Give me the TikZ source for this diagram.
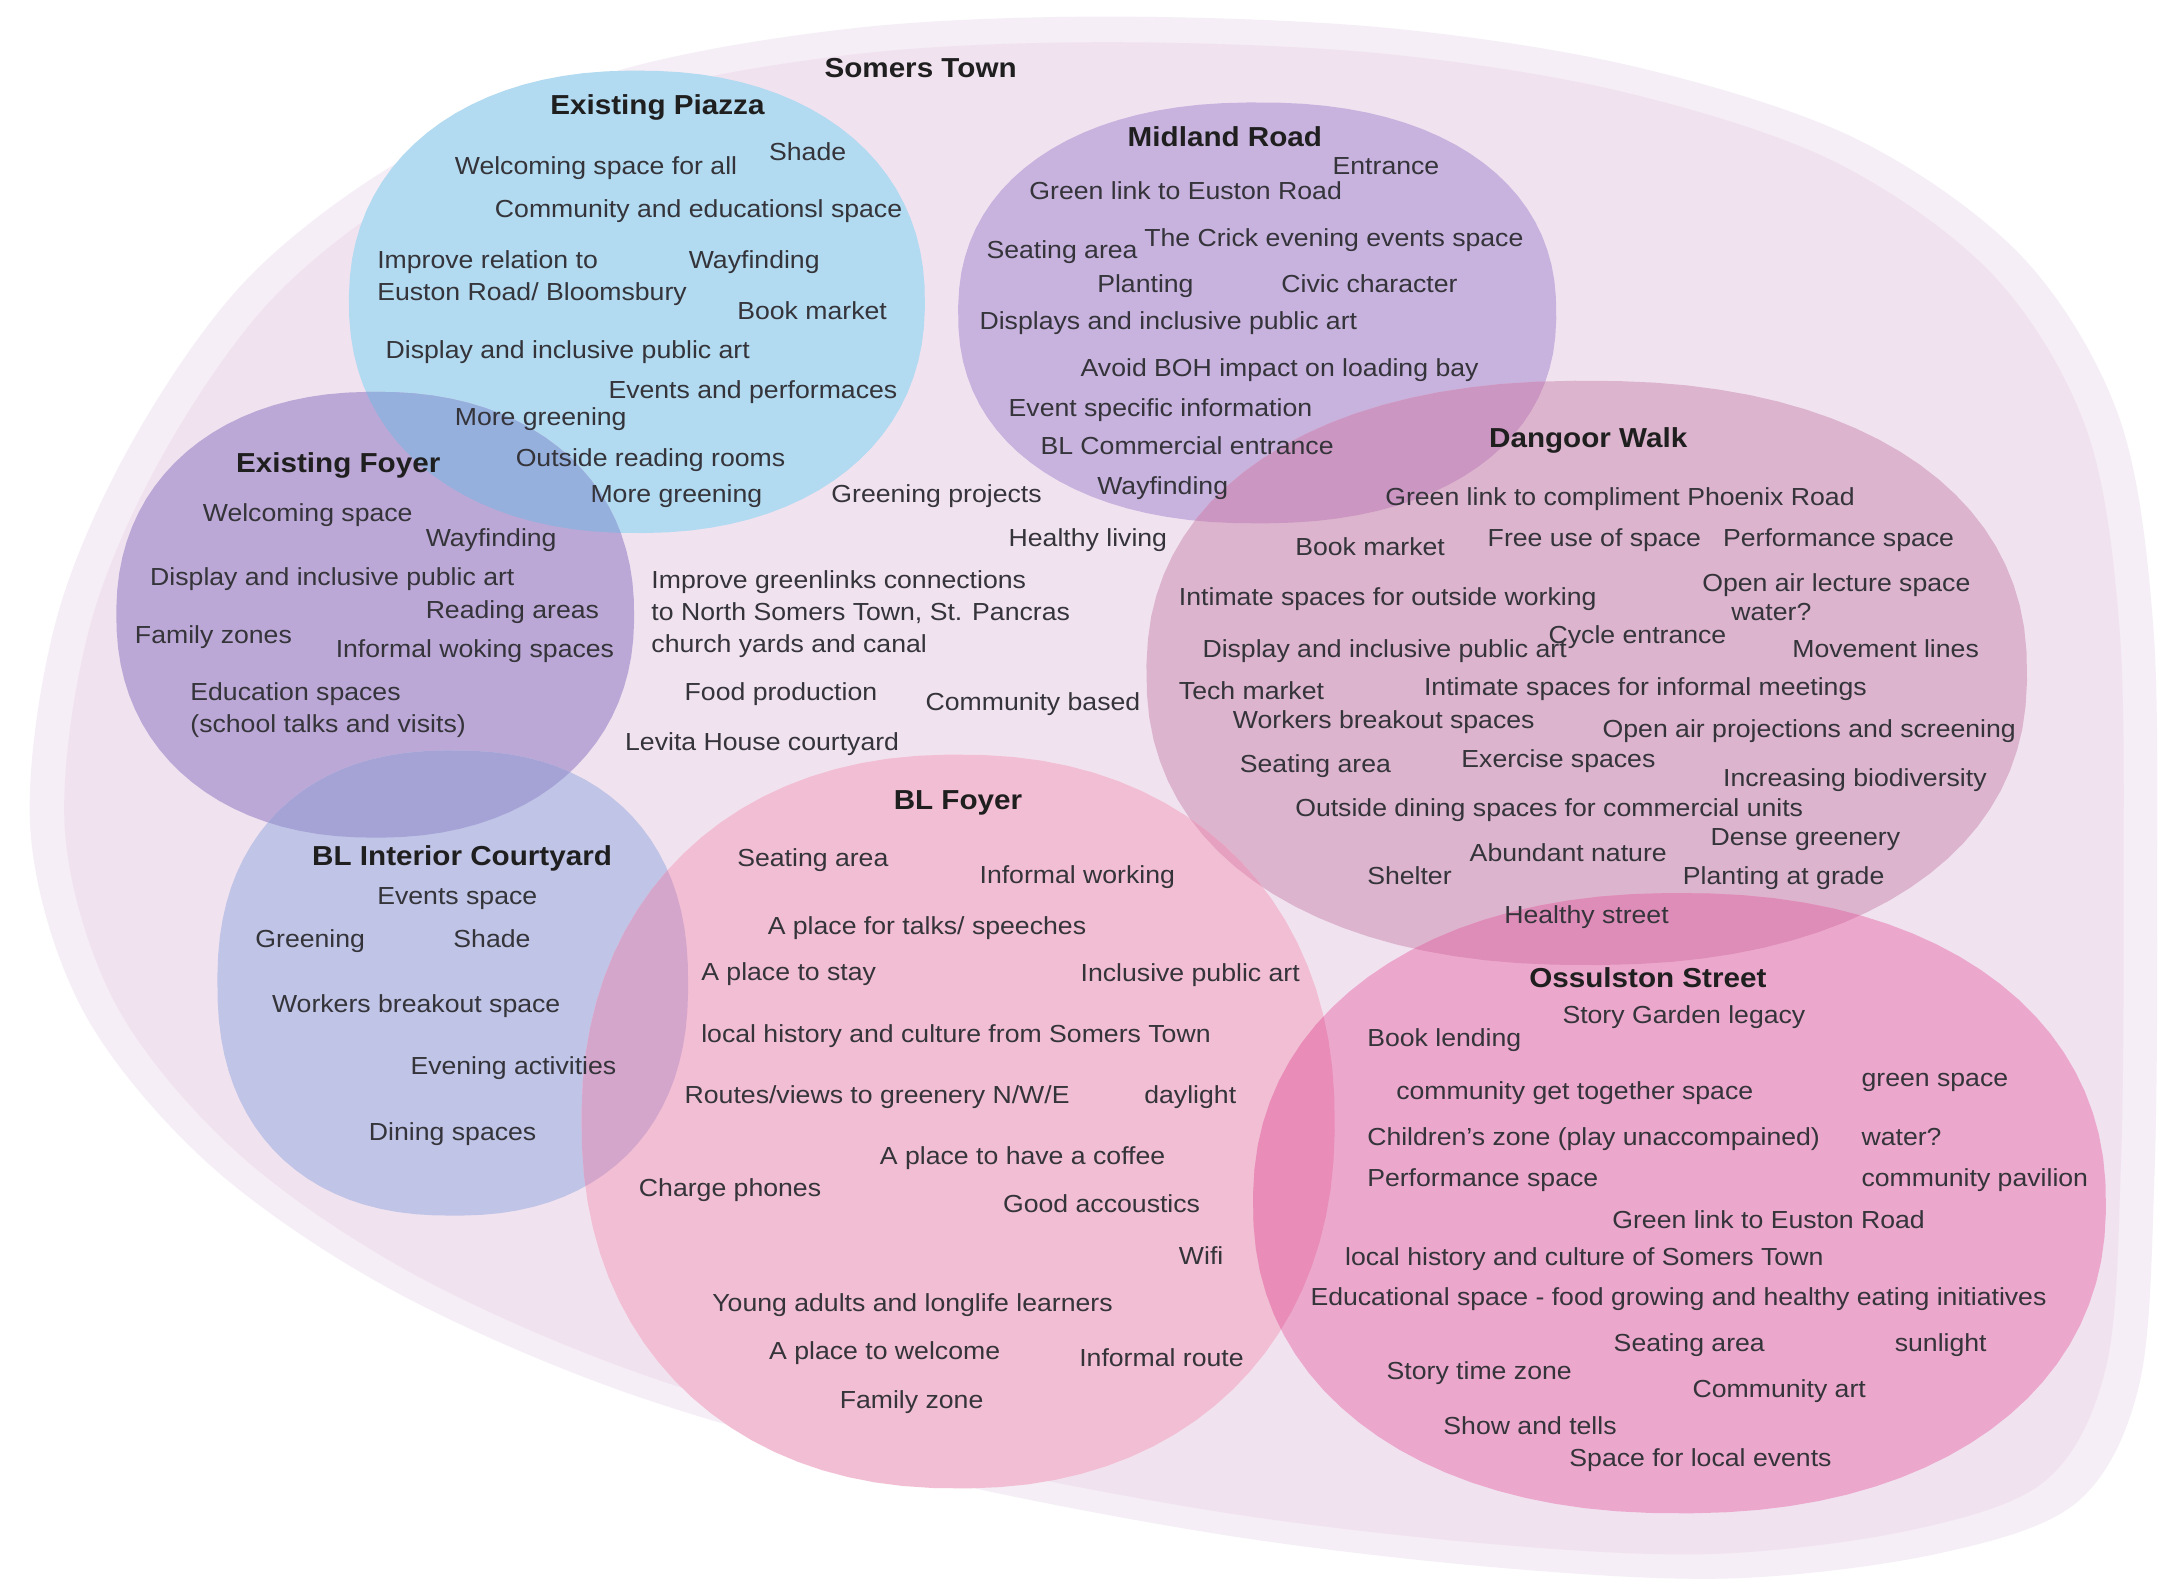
\documentclass[tikz,border=0pt]{standalone}
\usepackage{fontspec}
\setmainfont[FakeStretch=1.08]{Liberation Sans}

\definecolor{halocol}{RGB}{245,238,246}
\definecolor{towncol}{RGB}{241,226,240}
\definecolor{piazzacol}{RGB}{178,218,240}
\definecolor{midlandcol}{RGB}{200,178,222}
\definecolor{foyercol}{RGB}{188,168,214}
\definecolor{dangoorcol}{RGB}{220,180,206}
\definecolor{courtcol}{RGB}{192,196,230}
\definecolor{blfoyercol}{RGB}{242,190,211}
\definecolor{ossulcol}{RGB}{236,168,204}
\definecolor{pzefcol}{RGB}{150,176,222}
\definecolor{mrdwcol}{RGB}{203,150,194}
\definecolor{eficcol}{RGB}{165,163,214}
\definecolor{icbfcol}{RGB}{212,166,204}
\definecolor{bfdwcol}{RGB}{230,160,192}
\definecolor{bfoscol}{RGB}{234,140,184}
\definecolor{dwoscol}{RGB}{222,140,184}
\definecolor{textcol}{RGB}{52,52,58}

\newcommand\itemsize{\fontsize{7.1}{9.2}\selectfont}
\newcommand\titlesize{\fontsize{7.9}{9.5}\selectfont\bfseries}

\tikzset{
  blob/.style n args={5}{insert path={plot[variable=\t, domain=1:361, samples=91]
      ({#1+#3*sign(cos(\t))*pow(abs(cos(\t)),2/#5)}, {#2+#4*sign(sin(\t))*pow(abs(sin(\t)),2/#5)}) -- cycle}},
  townshape/.style={insert path={plot[smooth cycle, tension=0.55] coordinates {
      (22,600) (40,450) (95,320) (180,200) (300,110) (450,50) (620,20) (800,12)
      (1000,20) (1180,48) (1340,100) (1460,185) (1530,300) (1555,450) (1558,650)
      (1556,850) (1545,1000) (1500,1085) (1400,1122) (1250,1140) (1080,1132)
      (880,1108) (660,1065) (450,1005) (280,930) (150,840) (60,730)}}},
  piazzashape/.style={blob={460}{218}{208}{167}{2.2}},
  midlandshape/.style={blob={908}{226}{216}{152}{2.25}},
  foyershape/.style={blob={271}{444}{187}{161}{2.2}},
  courtshape/.style={blob={327}{710}{170}{168}{2.3}},
  blfoyershape/.style={blob={692}{810}{272}{265}{2.2}},
  dangoorshape/.style={blob={1146}{486}{318}{211}{2.25}},
  ossulshape/.style={blob={1213}{869}{308}{224}{2.2}},
  item/.style={anchor=base west, inner sep=0pt, font=\itemsize, text=textcol},
  ttl/.style={item, font=\titlesize, text=black!88}
}

\begin{document}
\begin{tikzpicture}[x=0.014cm, y=-0.014cm]
  \useasboundingbox[fill=white] (0,0) rectangle (1568,1143);

  % Somers Town
  \fill[halocol, townshape];
  \begin{scope}[shift={(800,590)}, scale=0.968, shift={(-800,-590)}]
    \fill[towncol, townshape];
  \end{scope}

  % areas
  \fill[piazzacol, piazzashape];
  \fill[midlandcol, midlandshape];
  \fill[foyercol, foyershape];
  \fill[courtcol, courtshape];
  \fill[dangoorcol, dangoorshape];
  \fill[blfoyercol, blfoyershape];
  \fill[ossulcol, ossulshape];

  % overlaps
  \begin{scope} \clip[piazzashape]; \fill[pzefcol, foyershape]; \end{scope}
  \begin{scope} \clip[midlandshape]; \fill[mrdwcol, dangoorshape]; \end{scope}
  \begin{scope} \clip[foyershape]; \fill[eficcol, courtshape]; \end{scope}
  \begin{scope} \clip[courtshape]; \fill[icbfcol, blfoyershape]; \end{scope}
  \begin{scope} \clip[blfoyershape]; \fill[bfdwcol, dangoorshape]; \end{scope}
  \begin{scope} \clip[blfoyershape]; \fill[bfoscol, ossulshape]; \end{scope}
  \begin{scope} \clip[dangoorshape]; \fill[dwoscol, ossulshape]; \end{scope}

  \node (sttitle) at (595,56) [ttl] {Somers Town};
  \node (stgreen) at (600,363) [item] {Greening projects};
  \node (sthealth) at (728,395) [item] {Healthy living};
  \node (stlinks) at (470,471) [item, align=left] {Improve greenlinks connections\\to North Somers Town, St. Pancras\\church yards and canal};
  \node (stfood) at (494,506) [item] {Food production};
  \node (stcomm) at (668,513) [item] {Community based};
  \node (stlevita) at (451,542) [item] {Levita House courtyard};

  % Existing Piazza
  \node (pztitle) at (397,83) [ttl] {Existing Piazza};
  \node (pzshade) at (555,116) [item] {Shade};
  \node (pzwelcome) at (328,126) [item] {Welcoming space for all};
  \node (pzcomm) at (357,157) [item] {Community and educationsl space};
  \node (pzrel) at (272,217) [item, align=left] {Improve relation to\\Euston Road/ Bloomsbury};
  \node (pzway) at (497,194) [item] {Wayfinding};
  \node (pzbook) at (532,231) [item] {Book market};
  \node (pzdisp) at (278,259) [item] {Display and inclusive public art};
  \node (pzevents) at (439,288) [item] {Events and performaces};
  \node (pzgreena) at (328,307) [item] {More greening};
  \node (pzread) at (372,337) [item] {Outside reading rooms};
  \node (pzgreenb) at (426,363) [item] {More greening};

  % Midland Road
  \node (mrtitle) at (814,106) [ttl] {Midland Road};
  \node (mrentr) at (962,126) [item] {Entrance};
  \node (mrgreen) at (743,144) [item] {Green link to Euston Road};
  \node (mrseat) at (712,187) [item] {Seating area};
  \node (mrcrick) at (826,178) [item] {The Crick evening events space};
  \node (mrplant) at (792,211) [item] {Planting};
  \node (mrcivic) at (925,211) [item] {Civic character};
  \node (mrdisp) at (707,238) [item] {Displays and inclusive public art};
  \node (mrboh) at (780,272) [item] {Avoid BOH impact on loading bay};
  \node (mrevent) at (728,301) [item] {Event specific information};
  \node (mrcomm) at (751,328) [item] {BL Commercial entrance};
  \node (mrway) at (792,357) [item] {Wayfinding};

  % Existing Foyer
  \node (eftitle) at (170,341) [ttl] {Existing Foyer};
  \node (efwelcome) at (146,377) [item] {Welcoming space};
  \node (efway) at (307,395) [item] {Wayfinding};
  \node (efdisp) at (108,423) [item] {Display and inclusive public art};
  \node (efread) at (307,447) [item] {Reading areas};
  \node (effamily) at (97,465) [item] {Family zones};
  \node (efinformal) at (242,475) [item] {Informal woking spaces};
  \node (efedu) at (137,529) [item, align=left] {Education spaces\\(school talks and visits)};

  % Dangoor Walk
  \node (dwtitle) at (1075,323) [ttl] {Dangoor Walk};
  \node (dwgreen) at (1000,365) [item] {Green link to compliment Phoenix Road};
  \node (dwbook) at (935,401) [item] {Book market};
  \node (dwfree) at (1074,395) [item] {Free use of space};
  \node (dwperf) at (1244,395) [item] {Performance space};
  \node (dwlecture) at (1229,427) [item] {Open air lecture space};
  \node (dwwater) at (1250,448) [item] {water?};
  \node (dwintimate) at (851,437) [item] {Intimate spaces for outside working};
  \node (dwdisp) at (868,475) [item] {Display and inclusive public art};
  \node (dwcycle) at (1118,465) [item] {Cycle entrance};
  \node (dwmove) at (1294,475) [item] {Movement lines};
  \node (dwtech) at (851,505) [item] {Tech market};
  \node (dwmeet) at (1028,502) [item] {Intimate spaces for informal meetings};
  \node (dwworkers) at (890,526) [item] {Workers breakout spaces};
  \node (dwproj) at (1157,533) [item] {Open air projections and screening};
  \node (dwseat) at (895,558) [item] {Seating area};
  \node (dwexer) at (1055,554) [item] {Exercise spaces};
  \node (dwbio) at (1244,568) [item] {Increasing biodiversity};
  \node (dwdining) at (935,590) [item] {Outside dining spaces for commercial units};
  \node (dwnature) at (1061,622) [item] {Abundant nature};
  \node (dwdense) at (1235,611) [item] {Dense greenery};
  \node (dwshelter) at (987,639) [item] {Shelter};
  \node (dwplant) at (1215,639) [item] {Planting at grade};
  \node (dwstreet) at (1086,667) [item] {Healthy street};

  % BL Interior Courtyard
  \node (ictitle) at (225,625) [ttl] {BL Interior Courtyard};
  \node (icevents) at (272,653) [item] {Events space};
  \node (icgreen) at (184,684) [item] {Greening};
  \node (icshade) at (327,684) [item] {Shade};
  \node (icworkers) at (196,731) [item] {Workers breakout space};
  \node (icevening) at (296,776) [item] {Evening activities};
  \node (icdining) at (266,824) [item] {Dining spaces};

  % BL Foyer
  \node (bftitle) at (645,585) [ttl] {BL Foyer};
  \node (bfseat) at (532,626) [item] {Seating area};
  \node (bfinformal) at (707,638) [item] {Informal working};
  \node (bftalks) at (554,675) [item] {A place for talks/ speeches};
  \node (bfstay) at (506,708) [item] {A place to stay};
  \node (bfart) at (780,709) [item] {Inclusive public art};
  \node (bfhistory) at (506,753) [item] {local history and culture from Somers Town};
  \node (bfroutes) at (494,797) [item] {Routes/views to greenery N/W/E};
  \node (bfday) at (826,797) [item] {daylight};
  \node (bfcoffee) at (635,841) [item] {A place to have a coffee};
  \node (bfcharge) at (461,864) [item] {Charge phones};
  \node (bfacoustic) at (724,876) [item] {Good accoustics};
  \node (bfwifi) at (851,913) [item] {Wifi};
  \node (bfyoung) at (514,947) [item] {Young adults and longlife learners};
  \node (bfwelcome) at (555,982) [item] {A place to welcome};
  \node (bfroute) at (779,987) [item] {Informal route};
  \node (bffamily) at (606,1017) [item] {Family zone};

  % Ossulston Street
  \node (ostitle) at (1104,713) [ttl] {Ossulston Street};
  \node (osstory) at (1128,739) [item] {Story Garden legacy};
  \node (osbook) at (987,756) [item] {Book lending};
  \node (oscomm) at (1008,794) [item] {community get together space};
  \node (osgreen) at (1344,785) [item] {green space};
  \node (oschild) at (987,827) [item] {Children’s zone (play unaccompained)};
  \node (oswater) at (1344,827) [item] {water?};
  \node (osperf) at (987,857) [item] {Performance space};
  \node (ospav) at (1344,857) [item] {community pavilion};
  \node (oslink) at (1164,887) [item] {Green link to Euston Road};
  \node (oshist) at (971,914) [item] {local history and culture of Somers Town};
  \node (osedu) at (946,943) [item] {Educational space - food growing and healthy eating initiatives};
  \node (osseat) at (1165,976) [item] {Seating area};
  \node (ossun) at (1368,976) [item] {sunlight};
  \node (ostime) at (1001,996) [item] {Story time zone};
  \node (osart) at (1222,1009) [item] {Community art};
  \node (osshow) at (1042,1036) [item] {Show and tells};
  \node (osspace) at (1133,1059) [item] {Space for local events};
\end{tikzpicture}
\end{document}
